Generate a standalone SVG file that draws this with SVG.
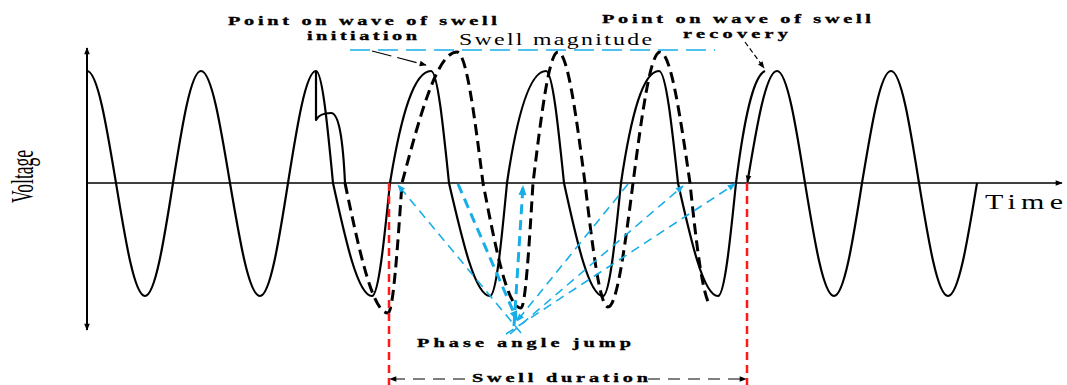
<svg xmlns="http://www.w3.org/2000/svg" width="1067" height="385" viewBox="0 0 1067 385">
<style>
.wave{fill:none;stroke:#000;stroke-width:2.2;stroke-linejoin:round}
.swell{fill:none;stroke:#000;stroke-width:3;stroke-dasharray:11 6}
.axis{fill:none;stroke:#000;stroke-width:1.4}
.yaxis{fill:none;stroke:#000;stroke-width:2}
.red{fill:none;stroke:#ff1a1a;stroke-width:2.5;stroke-dasharray:8 5}
.cy{fill:none;stroke:#17aee8;stroke-width:1.6;stroke-dasharray:9 6}
.cyb{fill:none;stroke:#17aee8;stroke-width:3;stroke-dasharray:10 6}
.cym{fill:none;stroke:#17aee8;stroke-width:1.6;stroke-dasharray:20 8}
.blk{fill:none;stroke:#000;stroke-width:1.2}
.lbl{font-family:"Liberation Serif",serif;font-weight:bold;font-size:13.5px;fill:#000;stroke:#000;stroke-width:0.35}
.ser{font-family:"Liberation Serif",serif;fill:#000}
</style>
<defs>
<marker id="ab" viewBox="0 0 10 10" refX="9" refY="5" markerWidth="8" markerHeight="7" markerUnits="userSpaceOnUse" orient="auto-start-reverse"><path d="M0,1 L10,5 L0,9 Z" fill="#000"/></marker>
<marker id="ac" viewBox="0 0 10 10" refX="9" refY="5" markerWidth="10" markerHeight="8" markerUnits="userSpaceOnUse" orient="auto"><path d="M0,1 L10,5 L0,9 Z" fill="#17aee8"/></marker>
<marker id="acb" viewBox="0 0 10 10" refX="9" refY="5" markerWidth="11" markerHeight="10" markerUnits="userSpaceOnUse" orient="auto"><path d="M0,1 L10,5 L0,9 Z" fill="#17aee8"/></marker>
</defs>

<g id="axes">
<path class="yaxis" d="M87,183 L87,48" marker-end="url(#ab)"/>
<path class="yaxis" d="M87,183 L87,330" marker-end="url(#ab)"/>
<path class="axis" d="M87,183 L1062,183" marker-end="url(#ab)"/>
<text class="ser" transform="translate(985,209) scale(1.5,1)" font-size="20" textLength="52" lengthAdjust="spacing">Time</text>
<text class="ser" transform="translate(33,203) rotate(-90)" font-size="32" textLength="53" lengthAdjust="spacingAndGlyphs">Voltage</text>
</g>

<g id="normal-wave">
<path class="wave" d="M87,71 C97.5,71 106.5,125.5 116,183 C125.5,241 134.5,296 145,296 C155.1,296 163.9,241 173,183 C182.1,125.5 190.9,71 201,71 C211.5,71 220.5,125.5 230,183 C239.8,241 249.1,296 260,296 C270.1,296 278.9,241 288,183 C297.1,125.5 305.9,71 316,71 C322.2,71 327.5,125.5 333,183 C345.7,241 357.9,296 372,296 C378.5,296 384.1,241 390,183 C401,115 414,71 431,71 C437.5,71 443.1,125.5 449,183 C462.4,241 475.2,296 490,296 C496.2,296 501.5,241 507,183 C517,115 530,71 546,71 C552.5,71 558.1,125.5 564,183 C576.7,241 588.9,296 603,296 C609.5,296 615.1,241 621,183 C631,115 643,71 659,71 C665.9,71 671.8,125.5 678,183 C691,241 703.5,296 718,296 C724.5,296 730.1,241 736,183 C744,120 753,76 765,71"/>
</g>

<g id="recovered-wave">
<path class="wave" d="M777,71 C766.1,71 756.8,125.5 747.5,182" marker-end="url(#ab)"/>
<path class="wave" d="M777,71 C787.1,71 795.9,125.5 805,183 C814.5,241 823.5,296 834,296 C844.1,296 852.9,241 862,183 C871.5,125.5 880.5,71 891,71 C901.1,71 909.9,125.5 919,183 C928.5,241 937.5,296 948,296 C958.5,296 967.5,241 977,183"/>
</g>

<g id="swell-wave">
<path class="wave" d="M316,71 L316,120 C319,114 325,113 331,113 C339,113 343,140 345,183"/>
<path class="swell" d="M345,183 C359,249.7 372.4,313 388,313 C393.1,313 397.4,249.7 402,183 C419.9,115.8 437.1,52 457,52 C466.4,52 474.5,115.8 483,183 C495.4,247.1 507.2,308 521,308 C525.3,308 529.1,247.1 533,183 C541.2,115.8 549,52 558,52 C567.8,52 576.2,115.8 585,183 C592.5,246.6 599.7,307 608,307 C617,307 624.9,246.6 633,183 C641.8,115.8 650.2,52 660,52 C670.9,52 680.2,115.8 690,183 C696.5,246 703,300 711,306"/>
</g>

<g id="swell-magnitude">
<path class="cym" d="M350,50 L715,50"/>
<text class="ser" transform="translate(459,45) scale(1.4,1)" font-size="17" textLength="137.9" lengthAdjust="spacing">Swell magnitude</text>
</g>

<g id="initiation-label">
<text class="lbl" transform="translate(228,24.5) scale(1.5,1)" textLength="179.3" lengthAdjust="spacing">Point on wave of swell</text>
<text class="lbl" transform="translate(307,39.5) scale(1.5,1)" textLength="73.3" lengthAdjust="spacing">initiation</text>
</g>

<g id="recovery-label">
<text class="lbl" transform="translate(602,23) scale(1.5,1)" textLength="179.3" lengthAdjust="spacing">Point on wave of swell</text>
<text class="lbl" transform="translate(683,38) scale(1.5,1)" textLength="70" lengthAdjust="spacing">recovery</text>
</g>

<g id="phase-label">
<text class="lbl" transform="translate(417,347) scale(1.5,1)" font-size="15" textLength="142.7" lengthAdjust="spacing">Phase angle jump</text>
</g>

<g id="duration-label">
<text class="lbl" transform="translate(472,382) scale(1.5,1)" font-size="16" textLength="117.3" lengthAdjust="spacing">Swell duration</text>
</g>

<g id="connectors">
<path class="blk" d="M372,51 L426,65" stroke-dasharray="20 6" marker-end="url(#ab)"/>
<path class="blk" d="M745,42 L764,68" stroke-dasharray="5 3" marker-end="url(#ab)"/>
<path class="red" d="M389,183 L389,385"/>
<path class="red" d="M747,183 L747,385"/>
<path class="blk" stroke-width="1.4" stroke-dasharray="12 8" d="M465,379 L390,379" marker-end="url(#ab)"/>
<path class="blk" stroke-width="1.4" stroke-dasharray="12 8" d="M648,379 L746,379" marker-end="url(#ab)"/>
<path class="cy" d="M521,333 L398,185" marker-end="url(#ac)"/>
<path class="cyb" d="M458,184 L517,320" marker-end="url(#acb)"/>
<path class="cyb" d="M514,326 L523,186" marker-end="url(#acb)"/>
<path class="cy" d="M628,184 L517,321" marker-end="url(#ac)"/>
<path class="cy" d="M510,334 L683,186" marker-end="url(#ac)"/>
<path class="cy" d="M506,334 L735,184" marker-end="url(#ac)"/>
</g>
</svg>
